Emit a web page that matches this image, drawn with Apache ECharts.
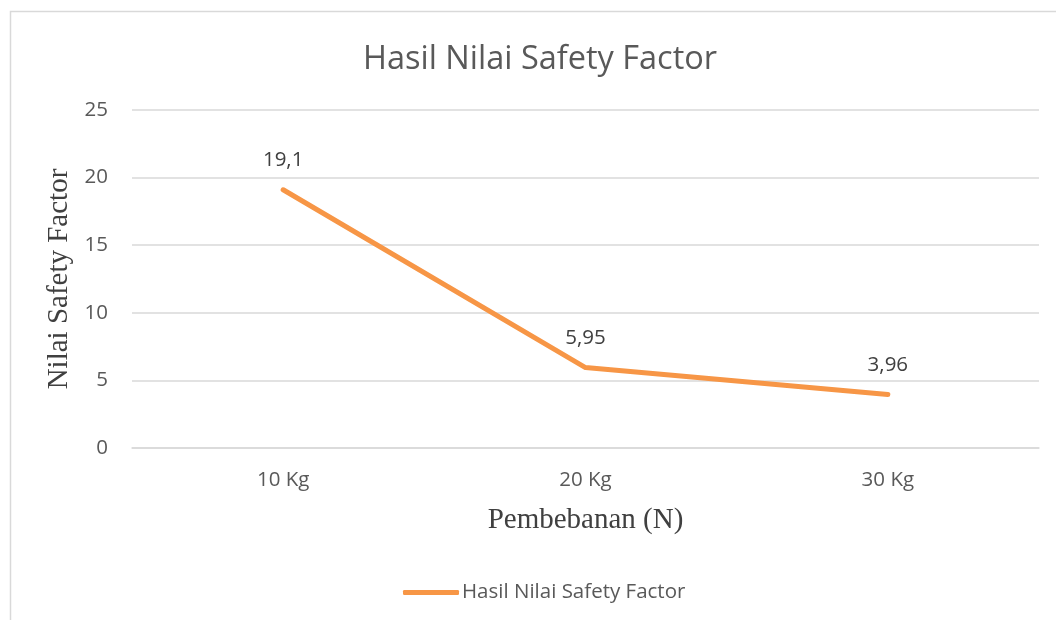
<!DOCTYPE html>
<html>
<head>
<meta charset="utf-8">
<script src="https://cdn.jsdelivr.net/npm/echarts@6/dist/echarts.min.js"></script>
<style>
  html, body { margin: 0; padding: 0; background: #fff; }
  #chart { width: 1056px; height: 620px; }
</style>
</head>
<body>
<div id="chart"></div>
<script>
// data
const categories = ['10 Kg', '20 Kg', '30 Kg'];
const safetyFactor = [19.1, 5.95, 3.96];
const seriesName = 'Hasil Nilai Safety Factor';

const mychart = echarts.init(document.getElementById('chart'));

const option = {
    backgroundColor: '#fff',
    animation: false,
    title: {
        text: 'Hasil Nilai Safety Factor',
        left: 535,
        textAlign: 'center',
        top: 38,
        textStyle: {
            color: '#595959',
            fontSize: 32.5,
            fontWeight: 'normal',
            fontFamily: 'Open Sans'
        }
    },
    graphic: [
        {
            type: 'rect',
            z: -10,
            shape: { x: 10.5, y: 11.5, width: 1200, height: 800 },
            style: { fill: 'none', stroke: '#d9d9d9', lineWidth: 1.5 }
        }
    ],
    legend: {
        bottom: 12,
        left: 398,
        itemWidth: 56,
        itemHeight: 5,
        itemGap: 4,
        icon: 'roundRect',
        textStyle: {
            color: '#595959',
            fontSize: 20.5,
            fontFamily: 'Open Sans',
            padding: [0, 0, 0, -2]
        },
        data: [seriesName]
    },
    grid: {
        left: 132,
        right: 17,
        top: 110,
        bottom: 172
    },
    xAxis: {
        type: 'category',
        data: categories,
        name: 'Pembebanan (N)',
        nameLocation: 'middle',
        nameGap: 58,
        nameTextStyle: {
            color: '#404040',
            fontSize: 29,
            fontFamily: 'Liberation Serif'
        },
        axisLine: { lineStyle: { color: '#d9d9d9', width: 1.5 } },
        axisTick: { show: false },
        axisLabel: {
            color: '#595959',
            fontSize: 20.5,
            fontFamily: 'Open Sans',
            margin: 22
        }
    },
    yAxis: {
        type: 'value',
        min: 0,
        max: 25,
        interval: 5,
        name: 'Nilai Safety Factor',
        nameLocation: 'middle',
        nameGap: 55,
        nameTextStyle: {
            color: '#404040',
            fontSize: 29,
            fontFamily: 'Liberation Serif'
        },
        axisLine: { show: false },
        axisTick: { show: false },
        axisLabel: {
            color: '#595959',
            fontSize: 20.5,
            fontFamily: 'Open Sans',
            margin: 24
        },
        splitLine: { lineStyle: { color: '#d9d9d9', width: 1.5 } }
    },
    series: [
        {
            name: seriesName,
            type: 'line',
            data: safetyFactor,
            symbol: 'circle',
            symbolSize: 0,
            showSymbol: true,
            color: '#F79646',
            lineStyle: { width: 5, cap: 'round', join: 'round', color: '#F79646' },
            label: {
                show: true,
                position: 'top',
                distance: 19,
                color: '#404040',
                fontSize: 20.5,
                fontFamily: 'Open Sans',
                formatter: function (p) {
                    return String(p.value).replace('.', ',');
                }
            }
        }
    ]
};

mychart.setOption(option);
</script>
</body>
</html>
